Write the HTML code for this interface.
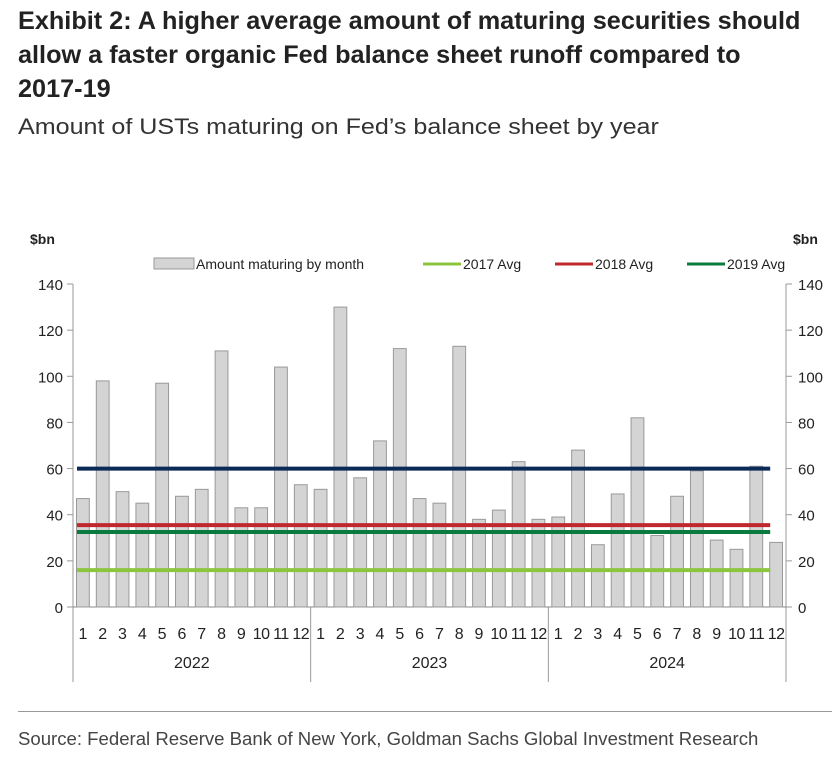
<!DOCTYPE html>
<html><head><meta charset="utf-8"><style>
body{margin:0;background:#fff;width:832px;height:761px;overflow:hidden;font-family:"Liberation Sans",sans-serif;}
.t{position:absolute;left:18px;font-weight:bold;font-size:25px;color:#222;line-height:34px;white-space:nowrap;transform:scaleX(1.01);transform-origin:left top}
</style></head><body>
<div class="t" style="top:4px;">Exhibit 2: A higher average amount of maturing securities should<br>allow a faster organic Fed balance sheet runoff compared to<br>2017-19</div>
<div style="position:absolute;left:18px;top:114px;font-size:22px;color:#333;white-space:nowrap;transform:scaleX(1.14);transform-origin:left top">Amount of USTs maturing on Fed’s balance sheet by year</div>
<svg id="c" width="832" height="761" style="position:absolute;left:0;top:0" font-family="Liberation Sans, sans-serif"></svg>
<div style="position:absolute;left:18px;top:711px;width:814px;height:1px;background:#999"></div>
<div style="position:absolute;left:18px;top:729px;font-size:18px;color:#444;white-space:nowrap;transform:scaleX(1.032);transform-origin:left top">Source: Federal Reserve Bank of New York, Goldman Sachs Global Investment Research</div>
<script>
const years=['2022','2023','2024'];
const months=['1','2','3','4','5','6','7','8','9','10','11','12'];
const values=[47,98,50,45,97,48,51,111,43,43,104,53, 51,130,56,72,112,47,45,113,38,42,63,38, 39,68,27,49,82,31,48,59,29,25,61,28];
const avgNames=['2017 Avg','2018 Avg','2019 Avg'];
const avgValues=[16,35.5,32.5];
const refValue=[60];
const yTicks=[0,20,40,60,80,100,120,140];
const NS='http://www.w3.org/2000/svg';
const svg=document.getElementById('c');
const X0=73,X1=786,Y0=607,Y1=284,YMAX=140;
const n=values.length,slot=(X1-X0)/n;
const y=v=>Y0-(v/YMAX)*(Y0-Y1);
const x=i=>X0+slot*i;
function el(t,a,txt){const e=document.createElementNS(NS,t);for(const k in a)e.setAttribute(k,a[k]);if(txt!==undefined)e.textContent=txt;svg.appendChild(e);return e;}
let e=el('line',{x1:X0,y1:Y1,x2:X0,y2:682,stroke:'#999'});


e=el('line',{x1:X1,y1:Y1,x2:X1,y2:682,stroke:'#999'});


e=el('line',{x1:X0-6,y1:Y0,x2:X1+6,y2:Y0,stroke:'#888'});


yTicks.forEach(v=>{
  e=el('line',{x1:X0-6,y1:y(v),x2:X0,y2:y(v),stroke:'#999'});
  
  
  e=el('line',{x1:X1,y1:y(v),x2:X1+6,y2:y(v),stroke:'#999'});
  
  
  e=el('text',{x:X0-10,y:y(v)+6,'text-anchor':'end','font-size':15,fill:'#222'},v);
  
  
  e=el('text',{x:X1+12,y:y(v)+6,'font-size':15,fill:'#222'},v);
  
  
});
e=el('text',{x:30,y:244,'font-size':14,'font-weight':'bold',fill:'#222'},'$bn');


e=el('text',{x:793,y:244,'font-size':14,'font-weight':'bold',fill:'#222'},'$bn');


values.forEach((v,i)=>{
  e=el('rect',{x:x(i)+3.5,y:y(v),width:slot-7,height:Y0-y(v),fill:'#d4d4d4',stroke:'#999','stroke-width':1});
  
  
  e=el('text',{x:x(i)+slot/2,y:639,'text-anchor':'middle','font-size':16,fill:'#222','letter-spacing':months[i%12].length>1?'-0.5':'0'},months[i%12]);
  
  
});
years.forEach((yr,k)=>{
  if(k>0){e=el('line',{x1:x(k*12),y1:Y0,x2:x(k*12),y2:682,stroke:'#999'});
  
  }
  e=el('text',{x:x(k*12+6),y:668,'text-anchor':'middle','font-size':16,fill:'#222'},yr);
  
  
});
const lx1=x(0)+4,lx2=x(n-1)+4;
const colors=['#8cc63f','#c0282d','#0b7a3e'];
e=el('line',{x1:lx1,y1:y(refValue[0]),x2:lx2,y2:y(refValue[0]),stroke:'#0c2a58','stroke-width':4});


avgValues.forEach((v,k)=>{
  e=el('line',{x1:lx1,y1:y(v),x2:lx2,y2:y(v),stroke:colors[k],'stroke-width':4});
  
  
});
e=el('rect',{x:154,y:258,width:40,height:11,fill:'#d4d4d4',stroke:'#999'});


e=el('text',{x:196,y:269,'font-size':14,fill:'#222'},'Amount maturing by month');


const lgx=[423,555,687];
avgNames.forEach((nm,k)=>{
  e=el('line',{x1:lgx[k],y1:264,x2:lgx[k]+38,y2:264,stroke:colors[k],'stroke-width':3});
  
  
  e=el('text',{x:lgx[k]+40,y:269,'font-size':14,fill:'#222'},nm);
  
  
});
</script>
</body></html>
